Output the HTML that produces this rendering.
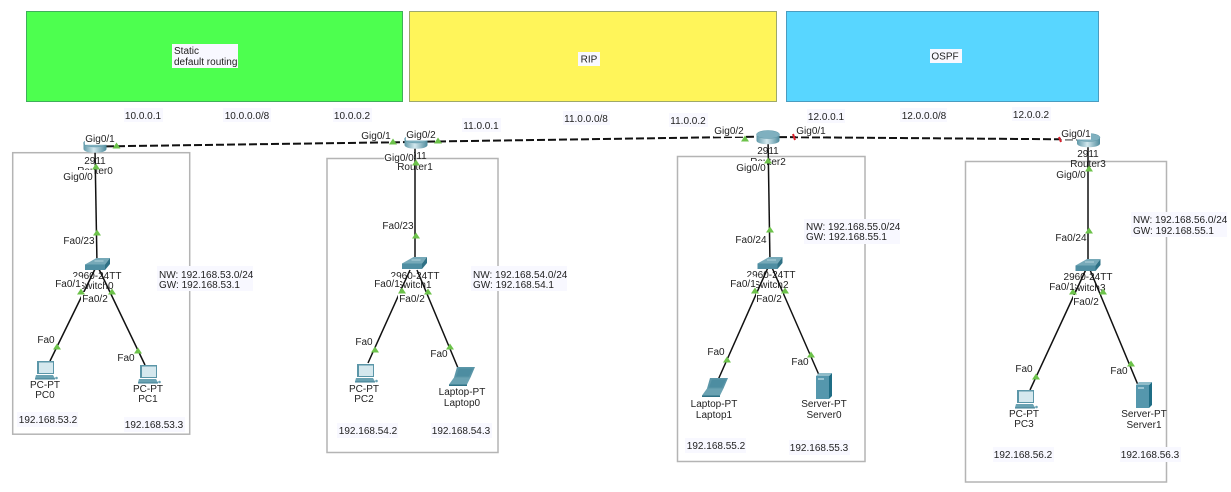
<!DOCTYPE html>
<html><head><meta charset="utf-8"><style>
html,body{margin:0;padding:0;background:#fff;width:1231px;height:492px;overflow:hidden}
svg{display:block}
text{font-family:"Liberation Sans",sans-serif;font-size:10px;fill:#222;text-anchor:middle}
.l{text-anchor:start}
</style></head><body>
<svg width="1231" height="492" viewBox="0 0 1231 492" xmlns="http://www.w3.org/2000/svg">
<defs>
<linearGradient id="rg" x1="0" x2="1" y1="0" y2="0"><stop offset="0" stop-color="#5f98a8"/><stop offset=".45" stop-color="#d3e8ee"/><stop offset="1" stop-color="#4d8a9c"/></linearGradient>
<g id="router"><path d="M-11.500,-3V3C-11.500,8 11.500,8 11.500,3V-3Z" fill="url(#rg)"/><ellipse cx="0" cy="-3" rx="11.500" ry="4" fill="#7fb0bf" stroke="#5f98a8" stroke-width=".5"/></g>
<g id="switch"><path d="M-12.500,0.500L-1,-6H12.500L7.500,0.500Z" fill="#76a9b8"/><path d="M-12.500,0.500H7.500V6H-12.500Z" fill="#4f8ea2"/><path d="M7.500,0.500L12.500,-6V0L7.500,6Z" fill="#2f7185"/><path d="M-3,-3H6" stroke="#c4dde4" stroke-width=".8"/></g>
<g id="pc"><path d="M-8,-9H9V4H-8Z" fill="#5b96a8"/><path d="M-6,-7.500H8V3H-6Z" fill="#d5e8ee"/><path d="M-9,5H8L10,8.500H-10Z" fill="#6aa2b2"/><path d="M-10,8.500H10V9.500H-10Z" fill="#3f7f93"/><circle cx="11.500" cy="8" r="1.300" fill="#6aa2b2"/></g>
<g id="laptop"><path d="M-5,-9.500H13L8.500,1H-8Z" fill="#5b96a8"/><path d="M-3,-8H11L7,0H-6Z" fill="#4d8da1"/><path d="M-8,1H8.500L5,8H-13Z" fill="#6aa2b2"/><path d="M-13,8H5V9.500H-13Z" fill="#2f7185"/></g>
<g id="server"><path d="M-8,-10H5V13H-8Z" fill="#5597ad"/><path d="M5,-10L8,-13V10L5,13Z" fill="#1f6d85"/><path d="M-8,-10L-5,-13H8L5,-10Z" fill="#8fbcc9"/><path d="M-6,-8H0V-6H-6Z" fill="#9ac4d1"/></g>
<path id="t" d="M-4,2.500H4L0,-3.500Z" fill="#6cc24a"/>
</defs>

<rect x="26.500" y="11.500" width="376" height="90" fill="#4dff4f" stroke="#3fae5a"/>
<rect x="409.500" y="11.500" width="367" height="90" fill="#fff55a" stroke="#9ea86a"/>
<rect x="786.500" y="11.500" width="312" height="90" fill="#58d6ff" stroke="#4a9cc0"/>

<rect x="172" y="44" width="66" height="24" fill="#f8f8ff"/>
<text class="l" x="174" y="54">Static</text><text class="l" x="174" y="65">default routing</text>
<rect x="578" y="52" width="22" height="14" fill="#f8f8ff"/><text x="589" y="62.500">RIP</text>
<rect x="930" y="49" width="32" height="14" fill="#f8f8ff"/><text x="945" y="59.500">OSPF</text>

<g fill="#fff" stroke="#b4b4b4" stroke-width="1.500">
<rect x="12.700" y="152.700" width="177" height="281.500"/>
<rect x="327" y="158.500" width="171" height="294"/>
<rect x="677.500" y="156.500" width="187.500" height="305"/>
<rect x="965.500" y="161.500" width="201" height="320.500"/>
</g>

<g>
<text x="95" y="164">2911</text><text x="95" y="174">Router0</text>
<text x="416" y="159">2911</text><text x="415" y="170">Router1</text>
<text x="768" y="154">2911</text><text x="768" y="165">Router2</text>
<text x="1088" y="157">2911</text><text x="1088" y="167">Router3</text>
<text x="97" y="279">2960-24TT</text><text x="96" y="289">Switch0</text>
<text x="415" y="279">2960-24TT</text><text x="414" y="288">Switch1</text>
<text x="771" y="278">2960-24TT</text><text x="771" y="288">Switch2</text>
<text x="1088" y="280">2960-24TT</text><text x="1088" y="291">Switch3</text>
<text x="45" y="388">PC-PT</text><text x="45" y="398">PC0</text>
<text x="148" y="392">PC-PT</text><text x="148" y="402">PC1</text>
<text x="364" y="392">PC-PT</text><text x="364" y="402">PC2</text>
<text x="462" y="395">Laptop-PT</text><text x="462" y="406">Laptop0</text>
<text x="714" y="407">Laptop-PT</text><text x="714" y="418">Laptop1</text>
<text x="824" y="407">Server-PT</text><text x="824" y="418">Server0</text>
<text x="1024" y="417">PC-PT</text><text x="1024" y="427">PC3</text>
<text x="1144" y="417">Server-PT</text><text x="1144" y="428">Server1</text>
</g>

<g stroke="#111" stroke-width="2" fill="none" stroke-dasharray="8 3">
<path d="M95,146.500L416,142"/><path d="M416,141.800L768,136.500"/><path d="M768,137L1088,139.500"/>
</g>
<g stroke="#111" stroke-width="1.500" fill="none">
<path d="M95,150L97,264"/><path d="M97,265L50,361"/><path d="M97,265L145,365"/>
<path d="M415,145L415,263"/><path d="M410,270L368,363"/><path d="M417,270L458,368"/>
<path d="M768,138L770,263"/><path d="M770,263L718,380"/><path d="M770,263L819,375"/>
<path d="M1088,142L1088,265"/><path d="M1088,265L1030,390"/><path d="M1088,265L1138,385"/>
</g>

<use href="#router" x="95" y="146"/><use href="#router" x="416" y="142"/>
<use href="#router" x="768" y="137.500"/><use href="#router" x="1088.500" y="140.500"/>
<use href="#switch" x="97.500" y="264"/><use href="#switch" x="414.500" y="263"/><use href="#switch" x="770" y="263"/><use href="#switch" x="1088" y="265"/>
<use href="#pc" x="45" y="370"/><use href="#pc" x="148" y="374"/><use href="#pc" x="365" y="373"/><use href="#laptop" x="462" y="376.500"/>
<use href="#laptop" x="715" y="387.500"/><use href="#server" x="824" y="386"/><use href="#pc" x="1025" y="399"/><use href="#server" x="1144" y="395"/>

<g fill="#fff">
<rect x="85" y="132" width="30" height="12.800"/><rect x="64" y="170" width="30.500" height="12"/><rect x="64" y="234" width="31" height="12.500"/><rect x="56" y="277" width="26" height="12.500"/><rect x="81" y="292" width="28" height="12"/><rect x="37" y="333" width="18" height="12"/><rect x="117" y="351" width="18" height="12"/>
<rect x="361" y="129" width="31" height="12.500"/><rect x="406" y="128" width="30" height="12.500"/><rect x="384" y="151" width="30" height="12"/><rect x="382" y="219" width="31" height="12.500"/><rect x="374" y="277" width="26" height="12.500"/><rect x="398" y="292" width="28" height="12"/><rect x="355" y="335" width="18" height="12"/><rect x="430" y="347" width="18" height="12"/>
<rect x="714" y="124" width="30" height="12.700"/><rect x="796" y="124" width="30" height="12.500"/><rect x="737" y="161" width="30" height="12"/><rect x="736" y="233" width="31" height="12.500"/><rect x="730" y="277" width="26" height="12.500"/><rect x="756" y="292" width="27" height="12"/><rect x="707" y="345" width="18" height="12"/><rect x="791" y="355" width="18" height="12"/>
<rect x="1061" y="127" width="30" height="12.500"/><rect x="1056" y="168" width="30" height="12.500"/><rect x="1055" y="231" width="31" height="12.500"/><rect x="1049" y="280" width="26" height="12.500"/><rect x="1073" y="295" width="27" height="12"/><rect x="1015" y="362" width="18" height="12"/><rect x="1110" y="364" width="18" height="12"/>
</g>

<use href="#t" x="116.500" y="146"/><use href="#t" x="393" y="142"/><use href="#t" x="438" y="141"/><use href="#t" x="745" y="139"/>
<use href="#t" x="96" y="167"/><use href="#t" x="97" y="233"/><use href="#t" x="81" y="292"/><use href="#t" x="112" y="292"/><use href="#t" x="57" y="347"/><use href="#t" x="138" y="351"/>
<use href="#t" x="416" y="163"/><use href="#t" x="416" y="236"/><use href="#t" x="402" y="291"/><use href="#t" x="428" y="292"/><use href="#t" x="375" y="350"/><use href="#t" x="450" y="347"/>
<use href="#t" x="768" y="161"/><use href="#t" x="770" y="230"/><use href="#t" x="755" y="291"/><use href="#t" x="785" y="291"/><use href="#t" x="727" y="360"/><use href="#t" x="811" y="355"/>
<use href="#t" x="1089" y="169"/><use href="#t" x="1089" y="231"/><use href="#t" x="1073" y="292"/><use href="#t" x="1103" y="292"/><use href="#t" x="1036" y="377"/><use href="#t" x="1131" y="364"/>
<path d="M793,134L795,140M1059,137L1061,142" stroke="#d8202c" stroke-width="2"/>

<g>
<text x="100" y="142">Gig0/1</text><text x="78" y="180">Gig0/0</text><text x="79" y="244">Fa0/23</text><text x="68" y="287">Fa0/1</text><text x="95" y="302">Fa0/2</text><text x="46" y="343">Fa0</text><text x="126" y="361">Fa0</text>
<text x="376" y="139">Gig0/1</text><text x="421" y="138">Gig0/2</text><text x="399" y="161">Gig0/0</text><text x="398" y="229">Fa0/23</text><text x="387" y="287">Fa0/1</text><text x="412" y="302">Fa0/2</text><text x="364" y="345">Fa0</text><text x="439" y="357">Fa0</text>
<text x="729" y="134">Gig0/2</text><text x="811" y="134">Gig0/1</text><text x="751" y="171">Gig0/0</text><text x="751" y="243">Fa0/24</text><text x="743" y="287">Fa0/1</text><text x="769" y="302">Fa0/2</text><text x="716" y="355">Fa0</text><text x="800" y="365">Fa0</text>
<text x="1076" y="137">Gig0/1</text><text x="1071" y="178">Gig0/0</text><text x="1071" y="241">Fa0/24</text><text x="1062" y="290">Fa0/1</text><text x="1086" y="305">Fa0/2</text><text x="1024" y="372">Fa0</text><text x="1119" y="374">Fa0</text>
</g>

<g fill="#f8f8ff">
<rect x="124" y="108" width="39" height="14"/><rect x="223" y="108" width="48" height="14"/><rect x="333" y="108" width="39" height="14"/>
<rect x="462" y="118" width="39" height="14"/><rect x="563" y="111" width="47" height="14"/><rect x="669" y="113" width="39" height="14"/>
<rect x="807" y="109" width="38" height="14"/><rect x="900" y="108" width="47" height="14"/><rect x="1012" y="107" width="39" height="14"/>
<rect x="157" y="266" width="96" height="25"/><rect x="471" y="266" width="96" height="25"/><rect x="804" y="219" width="96" height="25"/><rect x="1131" y="212" width="96" height="25"/>
<rect x="17" y="412" width="61" height="15"/><rect x="124" y="417" width="61" height="15"/><rect x="337" y="423" width="61" height="15"/><rect x="431" y="423" width="61" height="15"/>
<rect x="685" y="438" width="61" height="15"/><rect x="789" y="440" width="61" height="15"/><rect x="993" y="447" width="61" height="15"/><rect x="1120" y="447" width="61" height="15"/>
</g>
<g>
<text x="143" y="119">10.0.0.1</text><text x="247" y="119">10.0.0.0/8</text><text x="352" y="119">10.0.0.2</text>
<text x="481" y="129">11.0.0.1</text><text x="586" y="122">11.0.0.0/8</text><text x="688" y="124">11.0.0.2</text>
<text x="826" y="120">12.0.0.1</text><text x="924" y="119">12.0.0.0/8</text><text x="1031" y="118">12.0.0.2</text>
<text class="l" x="159" y="278">NW: 192.168.53.0/24</text><text class="l" x="159" y="288">GW: 192.168.53.1</text>
<text class="l" x="473" y="278">NW: 192.168.54.0/24</text><text class="l" x="473" y="288">GW: 192.168.54.1</text>
<text class="l" x="806" y="230">NW: 192.168.55.0/24</text><text class="l" x="806" y="240">GW: 192.168.55.1</text>
<text class="l" x="1133" y="223">NW: 192.168.56.0/24</text><text class="l" x="1133" y="234">GW: 192.168.55.1</text>
<text x="48" y="423">192.168.53.2</text><text x="154" y="428">192.168.53.3</text>
<text x="368" y="434">192.168.54.2</text><text x="461" y="434">192.168.54.3</text>
<text x="716" y="449">192.168.55.2</text><text x="819" y="451">192.168.55.3</text>
<text x="1023" y="458">192.168.56.2</text><text x="1150" y="458">192.168.56.3</text>
</g>
</svg>
</body></html>
